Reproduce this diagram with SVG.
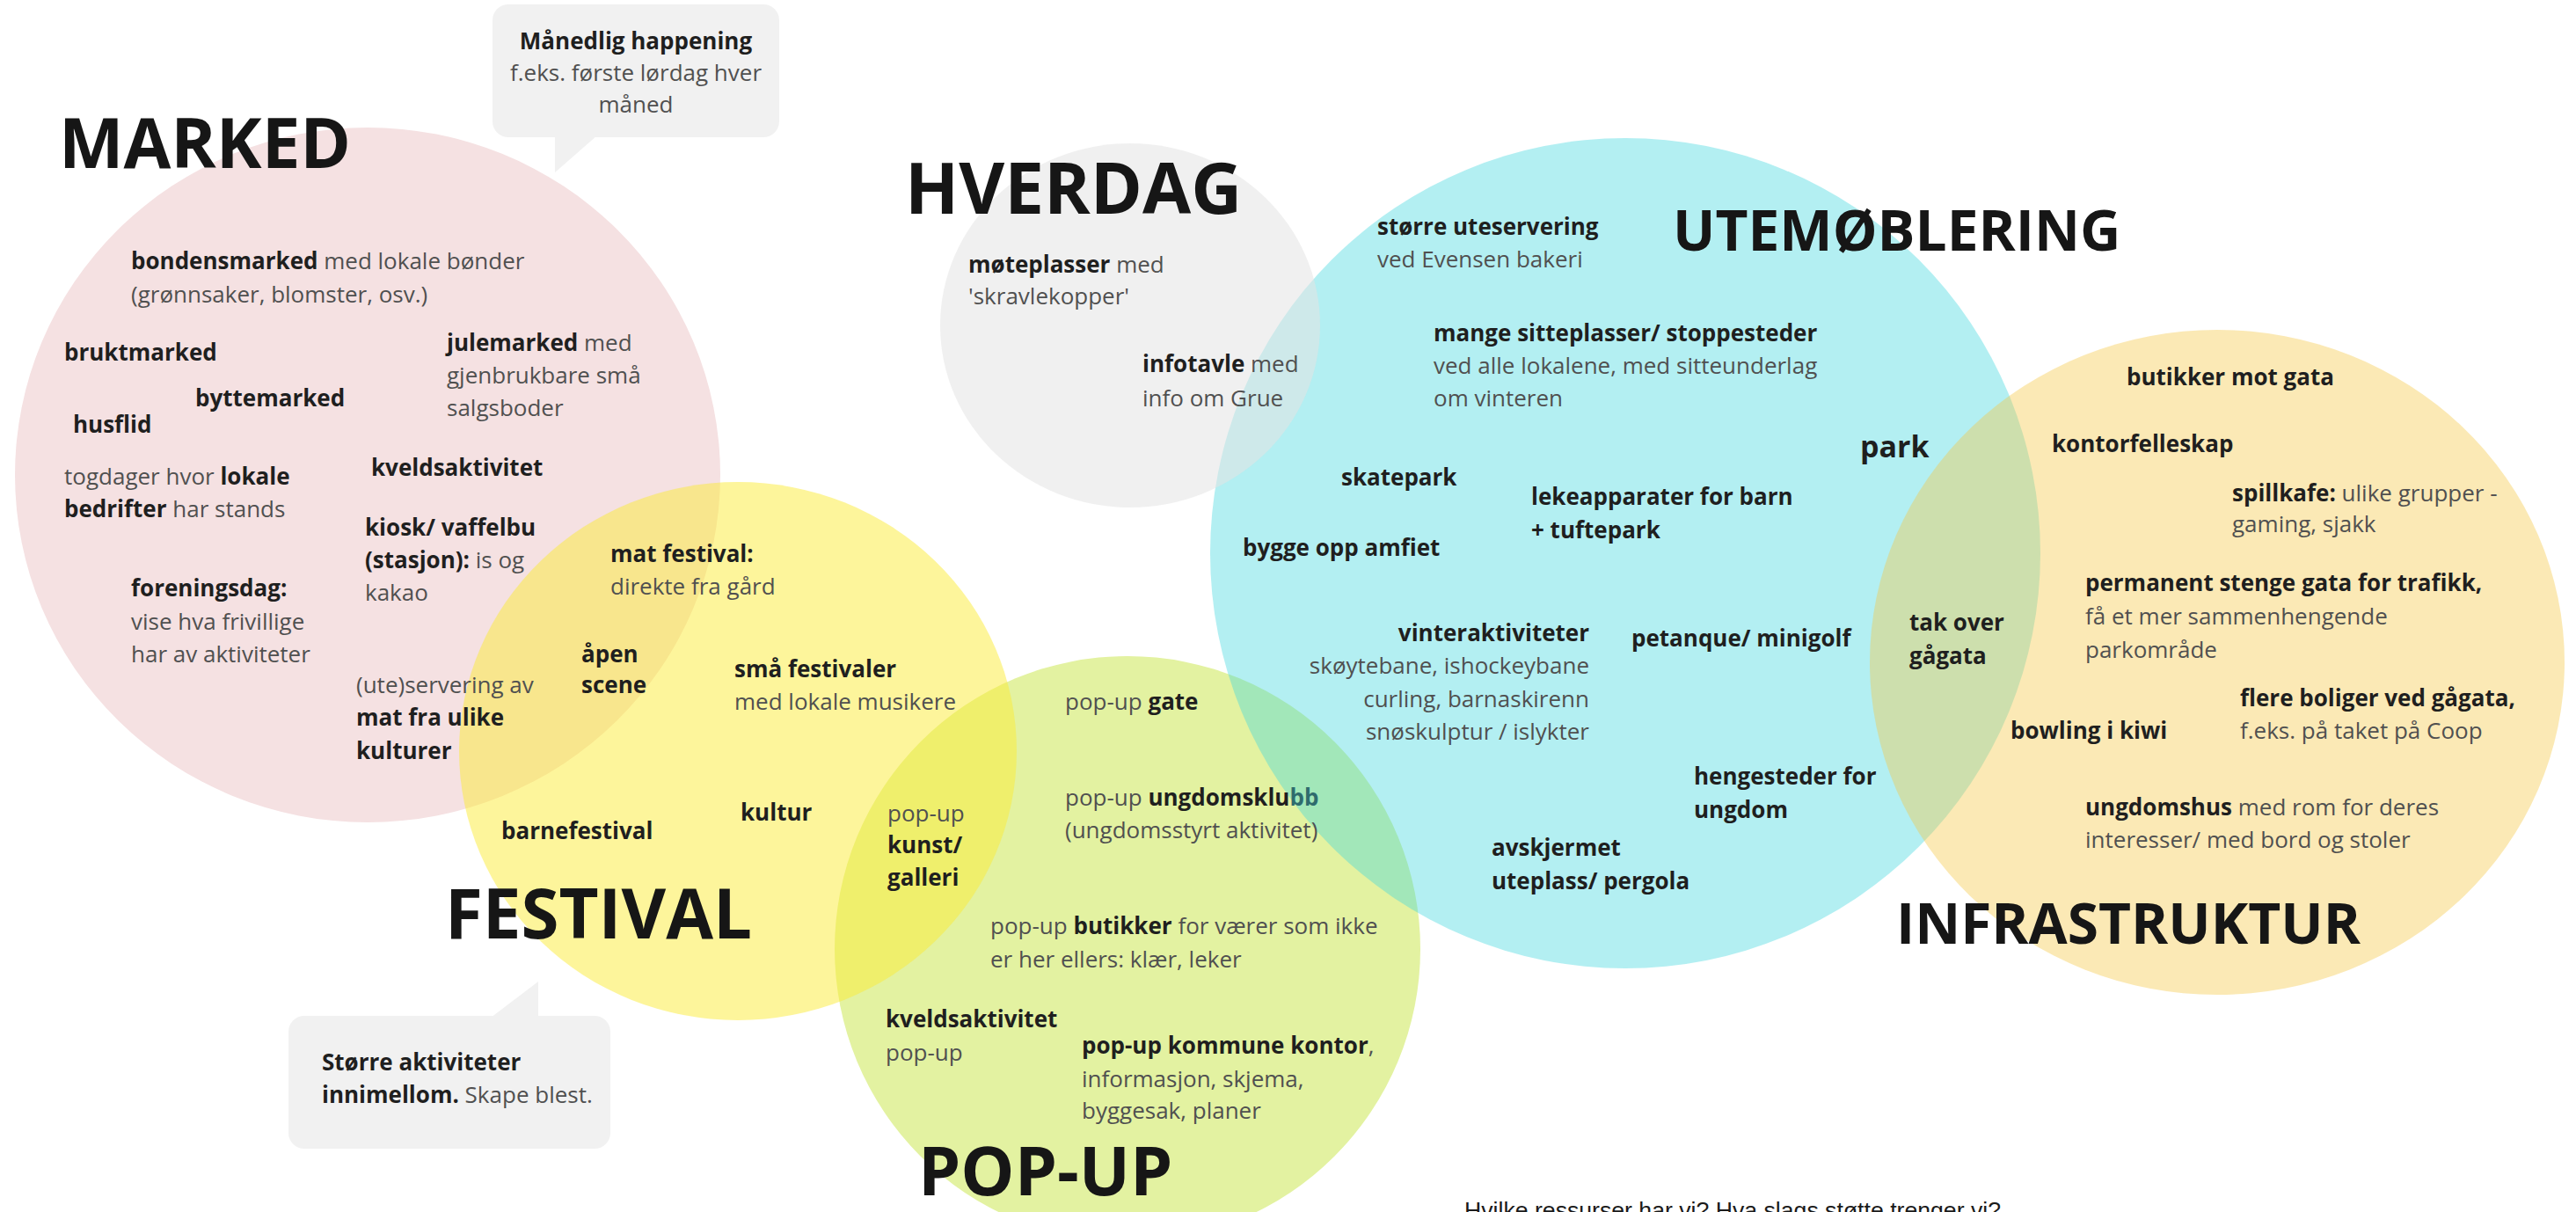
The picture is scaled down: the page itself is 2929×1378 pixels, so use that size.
<svg xmlns="http://www.w3.org/2000/svg" width="2929" height="1378" viewBox="0 0 2929 1378">
<style>
text{font-family:"Open Sans","Noto Sans","DejaVu Sans",sans-serif;font-size:26px;fill:#505050}
.b{font-weight:700;fill:#1f1f1f}
.t{font-weight:700;fill:#161616}
.c{font-size:26px}
.r{text-anchor:end}
.m{text-anchor:middle}
.bub{fill:#f1f1f1}
</style>
<rect width="2929" height="1378" fill="#ffffff"/>
<g id="areas">
<ellipse id="area-marked" cx="418" cy="540" rx="401" ry="395" fill="#f5e1e2"/>
<ellipse id="area-popup" cx="1282" cy="1079" rx="333" ry="333" fill="#e3f2a1"/>
<ellipse id="area-festival" cx="839" cy="854" rx="317" ry="306" fill="#fbeb37" fill-opacity="0.5"/>
<circle id="area-utemobl" cx="1848" cy="629" r="472" fill="#41d7de" fill-opacity="0.4"/>
<ellipse id="area-hverdag" cx="1285" cy="370" rx="216" ry="207" fill="#e4e4e4" fill-opacity="0.55"/>
<ellipse id="area-infra" cx="2521" cy="753" rx="395" ry="378" fill="#f5c846" fill-opacity="0.4"/>
</g>
<g id="connectors"></g>
<g id="callout-manedlig">
<rect class="bub" x="560" y="5" width="326" height="151" rx="18"/>
<path class="bub" d="M631 154 L631 196 L679 154 Z"/>
<text class="c m" x="723" y="56"><tspan class="b">Månedlig happening</tspan></text>
<text class="c m" x="723" y="92">f.eks. første lørdag hver</text>
<text class="c m" x="723" y="128">måned</text>
</g>
<g id="callout-storre">
<rect class="bub" x="328" y="1155" width="366" height="151" rx="18"/>
<path class="bub" d="M558 1157 L612 1116 L612 1157 Z"/>
<text class="c" x="366" y="1217"><tspan class="b">Større aktiviteter</tspan></text>
<text class="c" x="366" y="1254"><tspan class="b">innimellom.</tspan> Skape blest.</text>
</g>
<g id="node-marked">
<text class="t" x="67" y="191" style="font-size:78px">MARKED</text>
<text x="149" y="306"><tspan class="b">bondensmarked</tspan> med lokale bønder</text>
<text x="149" y="344">(grønnsaker, blomster, osv.)</text>
<text class="b" x="73" y="410">bruktmarked</text>
<text x="508" y="399"><tspan class="b">julemarked</tspan> med</text>
<text x="508" y="436">gjenbrukbare små</text>
<text x="508" y="473">salgsboder</text>
<text class="b" x="222" y="462">byttemarked</text>
<text class="b" x="83" y="492">husflid</text>
<text class="b" x="422" y="541">kveldsaktivitet</text>
<text x="73" y="551">togdager hvor <tspan class="b">lokale</tspan></text>
<text x="73" y="588"><tspan class="b">bedrifter</tspan> har stands</text>
<text class="b" x="415" y="609">kiosk/ vaffelbu</text>
<text x="415" y="646"><tspan class="b">(stasjon):</tspan> is og</text>
<text x="415" y="683">kakao</text>
<text class="b" x="149" y="678">foreningsdag:</text>
<text x="149" y="716">vise hva frivillige</text>
<text x="149" y="753">har av aktiviteter</text>
<text x="405" y="788">(ute)servering av</text>
<text class="b" x="405" y="825">mat fra ulike</text>
<text class="b" x="405" y="863">kulturer</text>
</g>
<g id="node-festival">
<text class="t" x="506" y="1067" style="font-size:78px">FESTIVAL</text>
<text class="b" x="694" y="639">mat festival:</text>
<text x="694" y="676">direkte fra gård</text>
<text class="b" x="661" y="753">åpen</text>
<text class="b" x="661" y="788">scene</text>
<text class="b" x="835" y="770">små festivaler</text>
<text x="835" y="807">med lokale musikere</text>
<text class="b" x="570" y="954">barnefestival</text>
<text class="b" x="842" y="933">kultur</text>
<text x="1009" y="934">pop-up</text>
<text class="b" x="1009" y="970">kunst/</text>
<text class="b" x="1009" y="1007">galleri</text>
</g>
<g id="node-popup">
<text class="t" x="1044" y="1359" style="font-size:77px">POP-UP</text>
<text x="1211" y="807">pop-up <tspan class="b">gate</tspan></text>
<text x="1211" y="916">pop-up <tspan class="b">ungdomsklu<tspan style="fill:#2f6b6d">bb</tspan></tspan></text>
<text x="1211" y="953">(ungdomsstyrt aktivitet)</text>
<text x="1126" y="1062">pop-up <tspan class="b">butikker</tspan> for værer som ikke</text>
<text x="1126" y="1100">er her ellers: klær, leker</text>
<text class="b" x="1007" y="1168">kveldsaktivitet</text>
<text x="1007" y="1206">pop-up</text>
<text x="1230" y="1198"><tspan class="b">pop-up kommune kontor</tspan>,</text>
<text x="1230" y="1236">informasjon, skjema,</text>
<text x="1230" y="1272">byggesak, planer</text>
</g>
<g id="node-hverdag">
<text class="t" x="1029" y="243" style="font-size:80px">HVERDAG</text>
<text x="1101" y="310"><tspan class="b">møteplasser</tspan> med</text>
<text x="1101" y="346">'skravlekopper'</text>
<text x="1299" y="423"><tspan class="b">infotavle</tspan> med</text>
<text x="1299" y="462">info om Grue</text>
</g>
<g id="node-utemobl">
<text class="t" x="1902" y="285" style="font-size:64px">UTEMØBLERING</text>
<text class="b" x="1566" y="267">større uteservering</text>
<text x="1566" y="304">ved Evensen bakeri</text>
<text class="b" x="1630" y="388">mange sitteplasser/ stoppesteder</text>
<text x="1630" y="425">ved alle lokalene, med sitteunderlag</text>
<text x="1630" y="462">om vinteren</text>
<text class="b" x="1525" y="552">skatepark</text>
<text class="b" x="1741" y="574">lekeapparater for barn</text>
<text class="b" x="1741" y="612">+ tuftepark</text>
<text class="b" x="1413" y="632">bygge opp amfiet</text>
<text class="b r" x="1807" y="729">vinteraktiviteter</text>
<text class="r" x="1807" y="766">skøytebane, ishockeybane</text>
<text class="r" x="1807" y="804">curling, barnaskirenn</text>
<text class="r" x="1807" y="841">snøskulptur / islykter</text>
<text class="b" x="1855" y="735">petanque/ minigolf</text>
<text class="b" x="1926" y="892">hengesteder for</text>
<text class="b" x="1926" y="930">ungdom</text>
<text class="b" x="1696" y="973">avskjermet</text>
<text class="b" x="1696" y="1011">uteplass/ pergola</text>
<text class="b" x="2115" y="520" style="font-size:34px">park</text>
</g>
<g id="node-infra">
<text class="t" x="2156" y="1073" style="font-size:64px">INFRASTRUKTUR</text>
<text class="b" x="2418" y="438">butikker mot gata</text>
<text class="b" x="2333" y="514">kontorfelleskap</text>
<text x="2538" y="570"><tspan class="b">spillkafe:</tspan> ulike grupper -</text>
<text x="2538" y="605">gaming, sjakk</text>
<text class="b" x="2371" y="672">permanent stenge gata for trafikk,</text>
<text x="2371" y="710">få et mer sammenhengende</text>
<text x="2371" y="748">parkområde</text>
<text class="b" x="2171" y="717">tak over</text>
<text class="b" x="2171" y="755">gågata</text>
<text class="b" x="2547" y="803">flere boliger ved gågata,</text>
<text x="2547" y="840">f.eks. på taket på Coop</text>
<text class="b" x="2286" y="840">bowling i kiwi</text>
<text x="2371" y="927"><tspan class="b">ungdomshus</tspan> med rom for deres</text>
<text x="2371" y="964">interesser/ med bord og stoler</text>
</g>
<g id="note">
<text x="1665" y="1385" textLength="610" lengthAdjust="spacingAndGlyphs" style="font-family:'Liberation Sans',Arial,sans-serif;font-size:26px;fill:#1a1a1a">Hvilke ressurser har vi? Hva slags støtte trenger vi?</text>
</g>
</svg>
